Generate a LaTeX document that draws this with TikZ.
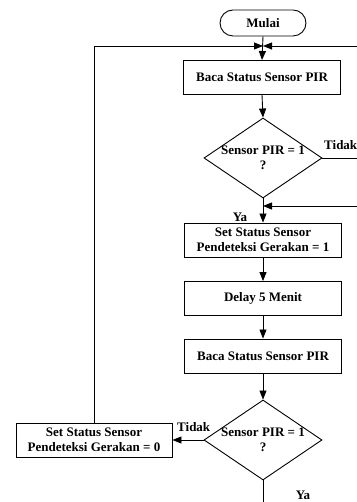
\documentclass[tikz,border=0pt]{standalone}
\usepackage{fontspec}
\setmainfont{Liberation Serif}
\usetikzlibrary{arrows.meta,shapes.geometric,shapes.misc}
\begin{document}
\begin{tikzpicture}[x=1pt,y=1pt,
  every node/.style={font=\fontsize{13}{15}\selectfont\bfseries},
  proc/.style={draw,line width=0.9pt,minimum width=157pt,minimum height=34pt,inner sep=0pt,align=center},
  term/.style={draw,line width=0.9pt,rounded rectangle,minimum width=86pt,minimum height=26pt,inner sep=0pt},
  dec/.style={draw,line width=0.9pt,diamond,minimum width=118pt,minimum height=80pt,inner sep=0pt},
  lbl/.style={inner sep=0pt},
  conn/.style={line width=0.9pt},
  arr/.style={line width=0.9pt,-{Triangle[length=9pt,width=7pt]}}
]
\useasboundingbox (0,0) rectangle (356,502);
\node[term] (mulai) at (263,479) {Mulai};
\node[proc] (b1) at (262,424.5) {Baca Status Sensor PIR};
\node[dec] (d1) at (263,344) {};
\node[lbl,align=center] (t1) at (263,344.5) {Sensor PIR = 1\\?};
\node[proc] (b2) at (263,262) {Set Status Sensor\\Pendeteksi Gerakan = 1};
\node[proc] (b3) at (263,203.5) {Delay 5 Menit};
\node[proc] (b4) at (263,146) {Baca Status Sensor PIR};
\node[dec] (d2) at (263,62) {};
\node[lbl,align=center] (t2) at (263,62.5) {Sensor PIR = 1\\?};
\node[proc,minimum width=156pt] (b5) at (94,62) {Set Status Sensor\\Pendeteksi Gerakan = 0};
\node[lbl,anchor=west] (tid1) at (324,357) {Tidak};
\node[lbl,anchor=west] (tid2) at (177,75) {Tidak};
\node[lbl] (ya1) at (240,285) {Ya};
\node[lbl] (ya2) at (303,7) {Ya};
\coordinate (join) at (263,456);
\coordinate (lc) at (94,456);
\coordinate (rtop) at (357,456);
\coordinate (rmid) at (357,296);
\coordinate (jmid) at (263,296);
\coordinate (rd1) at (357,344);
\coordinate (bot) at (263,-1);
\draw[arr] (mulai.south) -- (b1.north);
\draw[arr] (b5.north) -- (lc) -- (join);
\draw[arr] (rtop) -- (join);
\draw[arr] (b1.south) -- (d1.north);
\draw[conn] (d1.east) -- (rd1);
\draw[arr] (d1.south) -- (b2.north);
\draw[arr] (rmid) -- (jmid);
\draw[arr] (b2.south) -- (b3.north);
\draw[arr] (b3.south) -- (b4.north);
\draw[arr] (b4.south) -- (d2.north);
\draw[arr] (d2.west) -- (b5.east);
\draw[conn] (d2.south) -- (bot);
\end{tikzpicture}
\end{document}
